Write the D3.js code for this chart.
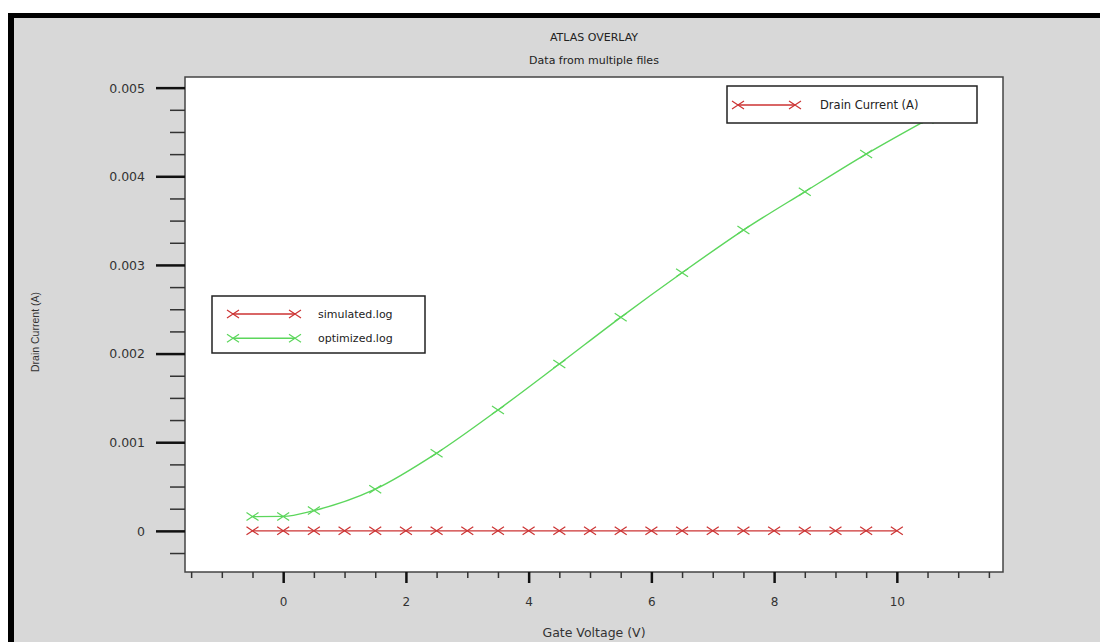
<!DOCTYPE html>
<html>
<head>
<meta charset="utf-8">
<script src="https://cdn.jsdelivr.net/npm/d3@7"></script>
<style>
  body { margin: 0; background: #fff; }
  svg { display: block; }
</style>
</head>
<body>
<div id="chart"></div>
<script>
// gate voltage (V) for each file
const simulatedV = [-0.5, 0, 0.5, 1, 1.5, 2, 2.5, 3, 3.5, 4, 4.5, 5, 5.5, 6, 6.5, 7, 7.5, 8, 8.5, 9, 9.5, 10]
const simulatedI = [0, 0, 0, 0, 0, 0, 0, 0, 0, 0, 0, 0, 0, 0, 0, 0, 0, 0, 0, 0, 0, 0]

const optimizedV = [-0.5, 0, 0.5, 1.5, 2.5, 3.5, 4.5, 5.5, 6.5, 7.5, 8.5, 9.5, 10.5]
const optimizedI = [0.000161, 0.000163, 0.000229, 0.00047, 0.000876, 0.001364, 0.001883, 0.002409, 0.002912, 0.003393, 0.003825, 0.00425, 0.00464]

const xTicks = [0, 2, 4, 6, 8, 10]
const yTicks = [0, 0.001, 0.002, 0.003, 0.004, 0.005]
const yTickLabels = ['0', '0.001', '0.002', '0.003', '0.004', '0.005']

const titles = ['ATLAS OVERLAY', 'Data from multiple files']
const legendFiles = ['simulated.log', 'optimized.log']
const legendQuantity = 'Drain Current (A)'

const draw = () => {
  const w = 1100
  const h = 642
  const plot = { left: 185, top: 77, right: 1003, bottom: 572 }
  const red = '#cc3333'
  const green = '#5cd65c'
  const font = 'DejaVu Sans, Verdana, sans-serif'

  const svg = d3.select('#chart')
    .append('svg')
    .attr('width', w)
    .attr('height', h)

  // frame: gray panel with black bars on top and left
  svg.append('rect').attr('x', 8).attr('y', 13).attr('width', w - 8).attr('height', h - 13).attr('fill', '#d8d8d8')
  svg.append('rect').attr('x', 8).attr('y', 13).attr('width', w - 8).attr('height', 5).attr('fill', '#000')
  svg.append('rect').attr('x', 8).attr('y', 13).attr('width', 6).attr('height', h - 13).attr('fill', '#000')

  const xScale = d3.scaleLinear()
    .domain([-1.6, 11.73])
    .range([plot.left, plot.right])

  const yScale = d3.scaleLinear()
    .domain([-0.000464, 0.00512])
    .range([plot.bottom, plot.top])

  svg.append('rect')
    .attr('x', plot.left)
    .attr('y', plot.top)
    .attr('width', plot.right - plot.left)
    .attr('height', plot.bottom - plot.top)
    .attr('fill', '#fff')
    .attr('stroke', '#444')
    .attr('stroke-width', 1.5)

  // titles
  svg.selectAll('.title')
    .data(titles)
    .enter()
    .append('text')
    .attr('class', 'title')
    .attr('x', (plot.left + plot.right) / 2)
    .attr('y', (d, i) => 37 + i * 23)
    .attr('dy', '0.35em')
    .attr('text-anchor', 'middle')
    .style('font-family', font)
    .style('font-size', '11px')
    .style('fill', '#222')
    .text(d => d)

  // x axis: minor then major ticks
  const xMinor = d3.range(-1.5, 11.6, 0.5).filter(v => !xTicks.includes(v))
  const yMinor = d3.range(-0.00025, 0.0050001, 0.00025).filter(v => !yTicks.some(t => Math.abs(t - v) < 1e-9))

  const xMinorAxis = svg.append('g')
    .attr('transform', 'translate(0,' + plot.bottom + ')')
    .call(d3.axisBottom(xScale).tickValues(xMinor).tickSize(6).tickFormat(''))
  const xAxis = svg.append('g')
    .attr('transform', 'translate(0,' + plot.bottom + ')')
    .call(d3.axisBottom(xScale).tickValues(xTicks).tickSize(11))

  const yMinorAxis = svg.append('g')
    .attr('transform', 'translate(' + plot.left + ',0)')
    .call(d3.axisLeft(yScale).tickValues(yMinor).tickSize(15).tickFormat(''))
  const yAxis = svg.append('g')
    .attr('transform', 'translate(' + plot.left + ',0)')
    .call(d3.axisLeft(yScale).tickValues(yTicks).tickSize(29).tickFormat((d, i) => yTickLabels[i]))

  ;[xMinorAxis, xAxis, yMinorAxis, yAxis].forEach(g => g.select('.domain').remove())
  ;[xMinorAxis, yMinorAxis].forEach(g => g.selectAll('line').attr('stroke', '#333').attr('stroke-width', 1.5))
  ;[xAxis, yAxis].forEach(g => g.selectAll('line').attr('stroke', '#111').attr('stroke-width', 2.5))

  xAxis.selectAll('text')
    .attr('y', 30)
    .attr('dy', '0.35em')
    .style('font-family', font)
    .style('font-size', '12px')
    .style('fill', '#333')

  yAxis.selectAll('text')
    .attr('x', -40)
    .attr('dy', '0.35em')
    .style('font-family', font)
    .style('font-size', '12.5px')
    .style('fill', '#333')

  svg.append('text')
    .attr('x', (plot.left + plot.right) / 2)
    .attr('y', 633)
    .attr('dy', '0.35em')
    .attr('text-anchor', 'middle')
    .style('font-family', font)
    .style('font-size', '12.5px')
    .style('fill', '#333')
    .text('Gate Voltage (V)')

  svg.append('text')
    .attr('transform', 'translate(35,' + 332 + ') rotate(-90)')
    .attr('dy', '0.35em')
    .attr('text-anchor', 'middle')
    .style('font-family', 'Liberation Sans, Arial, sans-serif')
    .style('font-size', '10.5px')
    .style('fill', '#333')
    .text('Drain Current (A)')

  // X shaped marker
  const cross = (g, x, y, color, sw) => {
    g.append('path')
      .attr('d', `M${x - 6},${y - 4}L${x + 6},${y + 4}M${x - 6},${y + 4}L${x + 6},${y - 4}`)
      .attr('stroke', color)
      .attr('stroke-width', sw)
      .attr('fill', 'none')
  }

  const series = [
    { v: simulatedV, i: simulatedI, color: red },
    { v: optimizedV, i: optimizedI, color: green }
  ]

  const line = d3.line()
    .x(d => xScale(d[0]))
    .y(d => yScale(d[1]))
    .curve(d3.curveMonotoneX)

  const clip = svg.append('clipPath').attr('id', 'plotclip')
  clip.append('rect')
    .attr('x', plot.left).attr('y', plot.top)
    .attr('width', plot.right - plot.left).attr('height', plot.bottom - plot.top)

  const marks = svg.append('g').attr('clip-path', 'url(#plotclip)')
  // draw optimized first so simulated sits on top near zero
  series.slice().reverse().forEach(s => {
    const pts = s.v.map((v, k) => [v, s.i[k]])
    marks.append('path')
      .datum(pts)
      .attr('d', line)
      .attr('fill', 'none')
      .attr('stroke', s.color)
      .attr('stroke-width', 1.4)
    pts.forEach(p => cross(marks, xScale(p[0]), yScale(p[1]), s.color, 1.2))
  })

  // file legend
  const leg = svg.append('g')
  leg.append('rect')
    .attr('x', 212).attr('y', 296)
    .attr('width', 213).attr('height', 57)
    .attr('fill', '#fff')
    .attr('stroke', '#222')
    .attr('stroke-width', 1.5)
  series.forEach((s, k) => {
    const y = 314 + k * 24.3
    leg.append('line')
      .attr('x1', 233).attr('x2', 295)
      .attr('y1', y).attr('y2', y)
      .attr('stroke', s.color)
      .attr('stroke-width', 1.4)
    cross(leg, 233, y, s.color, 1.2)
    cross(leg, 295, y, s.color, 1.2)
    leg.append('text')
      .attr('x', 318).attr('y', y)
      .attr('dy', '0.35em')
      .style('font-family', font)
      .style('font-size', '11px')
      .style('fill', '#222')
      .text(legendFiles[k])
  })

  // quantity legend
  const leg2 = svg.append('g')
  leg2.append('rect')
    .attr('x', 727).attr('y', 86)
    .attr('width', 250).attr('height', 37)
    .attr('fill', '#fff')
    .attr('stroke', '#222')
    .attr('stroke-width', 1.5)
  leg2.append('line')
    .attr('x1', 738).attr('x2', 795)
    .attr('y1', 105).attr('y2', 105)
    .attr('stroke', red)
    .attr('stroke-width', 1.4)
  cross(leg2, 738, 105, red, 1.2)
  cross(leg2, 795, 105, red, 1.2)
  leg2.append('text')
    .attr('x', 820).attr('y', 105)
    .attr('dy', '0.35em')
    .style('font-family', font)
    .style('font-size', '11.5px')
    .style('fill', '#222')
    .text(legendQuantity)
}

draw()
</script>
</body>
</html>
